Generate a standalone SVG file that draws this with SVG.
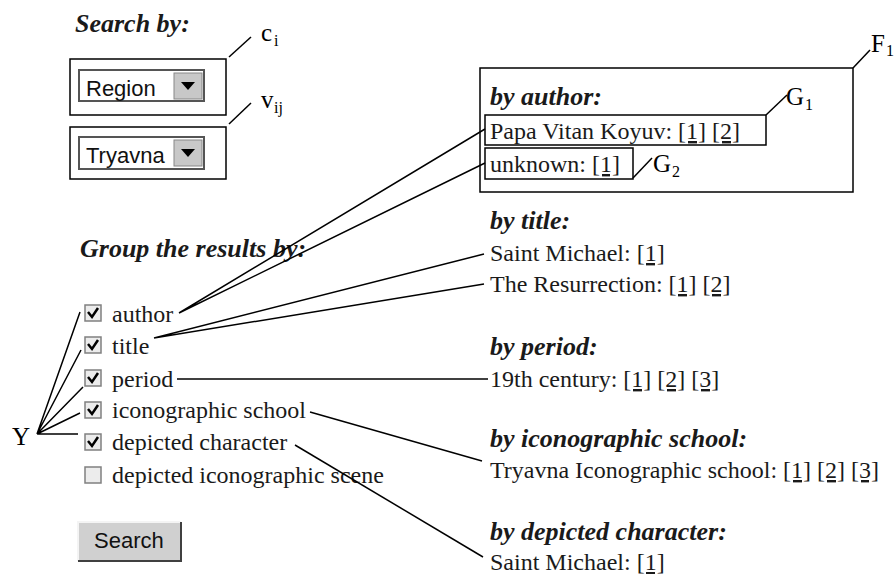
<svg xmlns="http://www.w3.org/2000/svg" width="895" height="574" viewBox="0 0 895 574">
<defs>
<style>
.h{font-family:"Liberation Serif","Times New Roman",serif;font-weight:bold;font-style:italic;font-size:26px;fill:#1a1a1a}
.t{font-family:"Liberation Serif","Times New Roman",serif;font-size:24px;fill:#1a1a1a}
.lbl{font-family:"Liberation Serif","Times New Roman",serif;font-size:25px;fill:#000}
.sub{font-family:"Liberation Serif","Times New Roman",serif;font-size:16px;fill:#000}
.s{font-family:"Liberation Sans",Arial,sans-serif;font-size:22px;fill:#111}
.u{text-decoration:underline}
.frame{fill:none;stroke:#000;stroke-width:1.5}
.ln{fill:none;stroke:#000;stroke-width:1.5}
.cb{fill:#ececec;stroke:#808080;stroke-width:1.5}
.ck{fill:none;stroke:#000;stroke-width:2.5}
.sel{fill:#fff;stroke:#555;stroke-width:2}
.btn{fill:#c8c8c8;stroke:#888;stroke-width:1}
</style>
</defs>
<rect width="895" height="574" fill="#fff"/>

<g id="search-by">
<text class="h" x="75" y="32">Search by:</text>
</g>

<g id="ci-box">
<rect class="frame" x="70" y="59" width="156" height="56"/>
<rect class="sel" x="79" y="70" width="125" height="31"/>
<text class="s" x="86" y="96">Region</text>
<rect class="btn" x="174" y="73" width="28" height="26"/>
<path d="M181,82 L195,82 L188,90 Z" fill="#000"/>
</g>
<g id="ci-label">
<text class="lbl" x="261" y="41">c</text><text class="sub" x="274" y="46">i</text>
</g>

<g id="vij-box">
<rect class="frame" x="70" y="127" width="156" height="52"/>
<rect class="sel" x="79" y="137" width="125" height="32"/>
<text class="s" x="86" y="163">Tryavna</text>
<rect class="btn" x="174" y="140" width="28" height="26"/>
<path d="M181,149 L195,149 L188,157 Z" fill="#000"/>
</g>
<g id="vij-label">
<text class="lbl" x="261" y="108">v</text><text class="sub" x="274" y="113">ij</text>
</g>

<g id="group-by">
<text class="h" x="80" y="257">Group the results by:</text>
</g>

<g id="cb-author">
<rect class="cb" x="85" y="305" width="16" height="16"/>
<path class="ck" d="M88,312 L92,317 L98,308"/>
<text class="t" x="112" y="322">author</text>
</g>
<g id="cb-title">
<rect class="cb" x="85" y="337" width="16" height="16"/>
<path class="ck" d="M88,344 L92,349 L98,340"/>
<text class="t" x="112" y="354">title</text>
</g>
<g id="cb-period">
<rect class="cb" x="85" y="370" width="16" height="16"/>
<path class="ck" d="M88,377 L92,382 L98,373"/>
<text class="t" x="112" y="387">period</text>
</g>
<g id="cb-school">
<rect class="cb" x="85" y="402" width="16" height="16"/>
<path class="ck" d="M88,409 L92,414 L98,405"/>
<text class="t" x="112" y="418">iconographic school</text>
</g>
<g id="cb-character">
<rect class="cb" x="85" y="434" width="16" height="16"/>
<path class="ck" d="M88,441 L92,446 L98,437"/>
<text class="t" x="112" y="450">depicted character</text>
</g>
<g id="cb-scene">
<rect class="cb" x="85" y="467" width="16" height="16" fill="#fafafa"/>
<text class="t" x="112" y="483">depicted iconographic scene</text>
</g>

<g id="search-btn">
<rect x="78" y="522" width="103" height="39" fill="#d0d0d0"/>
<path d="M78,561 L78,522 L181,522" fill="none" stroke="#f4f4f4" stroke-width="2"/>
<path d="M78,561 L181,561 L181,522" fill="none" stroke="#404040" stroke-width="2"/>
<text class="s" x="94" y="548">Search</text>
</g>

<g id="Y-label">
<text class="lbl" x="12" y="445">Y</text>
</g>

<g id="F1">
<rect class="frame" x="480" y="68" width="373" height="124"/>
<text class="h" x="490" y="105">by author:</text>
</g>
<g id="F1-label">
<text class="lbl" x="871" y="52">F</text><text class="sub" x="886" y="56">1</text>
</g>
<g id="G1">
<rect class="frame" x="485" y="115" width="281" height="30"/>
<text class="t" x="490" y="139">Papa Vitan Koyuv: <tspan class="u">[1]</tspan> <tspan class="u">[2]</tspan></text>
</g>
<g id="G1-label">
<text class="lbl" x="786" y="105">G</text><text class="sub" x="805" y="110">1</text>
</g>
<g id="G2">
<rect class="frame" x="485" y="148" width="148" height="31"/>
<text class="t" x="490" y="172">unknown: <tspan class="u">[1]</tspan></text>
</g>
<g id="G2-label">
<text class="lbl" x="653" y="172">G</text><text class="sub" x="672" y="177">2</text>
</g>

<g id="by-title">
<text class="h" x="490" y="229">by title:</text>
<text class="t" x="490" y="261">Saint Michael: <tspan class="u">[1]</tspan></text>
<text class="t" x="490" y="292">The Resurrection: <tspan class="u">[1]</tspan> <tspan class="u">[2]</tspan></text>
</g>
<g id="by-period">
<text class="h" x="490" y="355">by period:</text>
<text class="t" x="490" y="387">19th century: <tspan class="u">[1]</tspan> <tspan class="u">[2]</tspan> <tspan class="u">[3]</tspan></text>
</g>
<g id="by-school">
<text class="h" x="490" y="447">by iconographic school:</text>
<text class="t" x="490" y="478">Tryavna Iconographic school: <tspan class="u">[1]</tspan> <tspan class="u">[2]</tspan> <tspan class="u">[3]</tspan></text>
</g>
<g id="by-character">
<text class="h" x="490" y="540">by depicted character:</text>
<text class="t" x="490" y="570">Saint Michael: <tspan class="u">[1]</tspan></text>
</g>

<g id="connectors">
<path class="ln" d="M229,57 L251,37"/>
<path class="ln" d="M229,124 L251,103"/>
<path class="ln" d="M853,68 L870,50"/>
<path class="ln" d="M766,115 L787,95"/>
<path class="ln" d="M633,178 L652,158"/>
<path class="ln" d="M37,434 L80,312 M37,434 L81,350 M37,434 L83,387 M37,434 L80,413 M37,434 L78,434"/>
<path class="ln" d="M179,313 L485,129 M179,313 L485,163"/>
<path class="ln" d="M154,338 L484,254 M154,338 L484,284"/>
<path class="ln" d="M177,379 L488,379"/>
<path class="ln" d="M310,412 L482,461"/>
<path class="ln" d="M295,445 L483,557"/>
</g>
</svg>
